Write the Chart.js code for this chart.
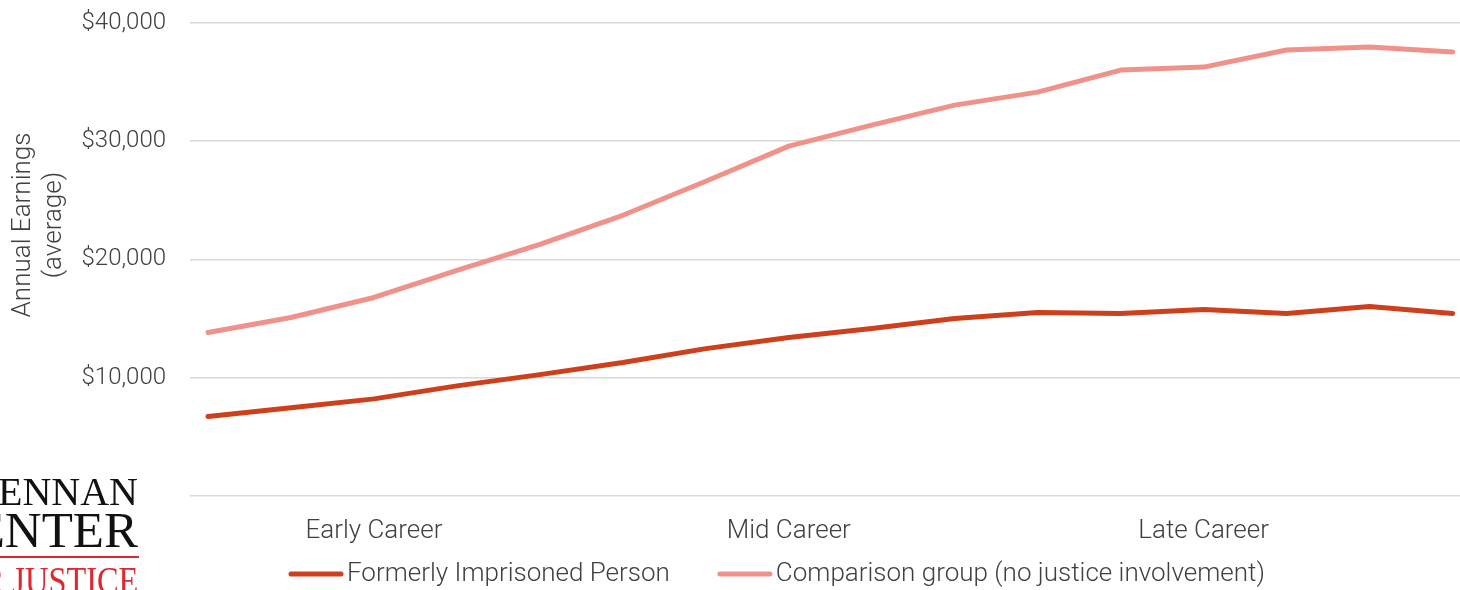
<!DOCTYPE html>
<html lang="en">
<head>
    <meta charset="UTF-8">
    <title>Annual Earnings over career</title>
    <script src="https://cdn.jsdelivr.net/npm/chart.js"></script>
    <style>
        html, body { margin: 0; padding: 0; background: #fff; overflow: hidden; }
        #wrap { position: relative; width: 1460px; height: 590px; overflow: hidden; }
        #earningsChart { position: absolute; left: 0; top: 0; }
        /* cropped logo in the lower left corner */
        .logo { position: absolute; right: 1322px; font-family: "Liberation Serif", "DejaVu Serif", serif; white-space: nowrap; line-height: 1; }
        #logo1 { top: 472px; font-size: 40px; color: #111; }
        #logo2 { top: 505px; font-size: 51px; color: #111; }
        #logoRule { position: absolute; left: 0; top: 556px; width: 139px; height: 2px; background: #e2262d; }
        #logo3 { top: 561px; font-size: 40px; color: #e2262d; transform: scaleX(0.81); transform-origin: right; }
    </style>
</head>
<body>
<div id="wrap">
    <canvas id="earningsChart" width="1460" height="660"></canvas>
    <div class="logo" id="logo1">BRENNAN</div>
    <div class="logo" id="logo2">CENTER</div>
    <div id="logoRule"></div>
    <div class="logo" id="logo3">FOR JUSTICE</div>
</div>

<script>
    // 16 points across a career, three stage labels on the axis
    const stageLabels = ['Early Career', 'Mid Career', 'Late Career'];
    const stagePositions = [2, 7, 12];
    const yTicks = [0, 10000, 20000, 30000, 40000];

    const formerlyImprisoned = [6700, 7450, 8200, 9300, 10250, 11270, 12450, 13400, 14150, 15000, 15500, 15420, 15760, 15420, 16020, 15420];
    const comparisonGroup = [13820, 15080, 16780, 19070, 21270, 23730, 26610, 29580, 31360, 33050, 34150, 36020, 36270, 37710, 37970, 37540];

    const seriesNames = ['Formerly Imprisoned Person', 'Comparison group (no justice involvement)'];
    const seriesColors = ['#cd401b', '#f0928a'];

    const textColor = '#404040';
    const labelFont = { family: 'Roboto', weight: '300', size: 26 };
    const tickFont = { family: 'Roboto', weight: '300', size: 24 };

    function toPoints(values) {
        return values.map((v, i) => ({ x: i, y: v }));
    }

    // small line swatch used as the legend marker
    function swatch(color) {
        const c = document.createElement('canvas');
        c.width = 56;
        c.height = 6;
        const g = c.getContext('2d');
        g.strokeStyle = color;
        g.lineWidth = 5;
        g.lineCap = 'round';
        g.beginPath();
        g.moveTo(3, 3);
        g.lineTo(53, 3);
        g.stroke();
        return c;
    }
    const swatches = seriesColors.map(swatch);

    // y-axis title, drawn by hand so it sits where the original has it
    const axisTitle = {
        id: 'axisTitle',
        afterDraw(chart) {
            const ctx = chart.ctx;
            ctx.save();
            ctx.fillStyle = textColor;
            ctx.font = '300 26px Roboto';
            ctx.textAlign = 'center';
            ctx.textBaseline = 'middle';
            ctx.translate(0, 225);
            ctx.rotate(-Math.PI / 2);
            ctx.fillText('Annual Earnings', 0, 23);
            ctx.fillText('(average)', 0, 54);
            ctx.restore();
        }
    };

    // move legend so it sits where the original does
    const legendShift = {
        id: 'legendShift',
        afterLayout(chart) {
            const lg = chart.legend;
            if (!lg || !lg.lineWidths) return;
            const pad = lg.options.labels.padding;
            const start = (lg.left + pad + lg.right - lg.lineWidths[0]) / 2;
            const dx = 298 - start;
            const dy = 574 - (lg.top + pad + labelFont.size / 2);
            lg.left += dx;
            lg.right += dx;
            lg.top += dy;
            lg.bottom += dy;
        }
    };

    const ctx = document.getElementById('earningsChart').getContext('2d');
    new Chart(ctx, {
        type: 'line',
        data: {
            datasets: [{
                label: seriesNames[0],
                data: toPoints(formerlyImprisoned),
                borderColor: seriesColors[0],
                backgroundColor: seriesColors[0],
                borderWidth: 5,
                pointRadius: 0,
                borderCapStyle: 'round',
                borderJoinStyle: 'round',
                tension: 0
            }, {
                label: seriesNames[1],
                data: toPoints(comparisonGroup),
                borderColor: seriesColors[1],
                backgroundColor: seriesColors[1],
                borderWidth: 5,
                pointRadius: 0,
                borderCapStyle: 'round',
                borderJoinStyle: 'round',
                tension: 0
            }]
        },
        options: {
            responsive: false,
            animation: false,
            layout: { padding: { top: 23, right: 0, left: 0, bottom: 0 } },
            plugins: {
                tooltip: { enabled: false },
                legend: {
                    position: 'bottom',
                    labels: {
                        color: textColor,
                        font: labelFont,
                        usePointStyle: true,
                        pointStyleWidth: 36,
                        padding: 57,
                        generateLabels(chart) {
                            return Chart.defaults.plugins.legend.labels.generateLabels(chart).map((item, i) => {
                                item.pointStyle = swatches[i];
                                item.lineWidth = 0;
                                return item;
                            });
                        }
                    }
                }
            },
            scales: {
                x: {
                    type: 'linear',
                    min: -0.217,
                    max: 15.09,
                    grid: { display: false, drawTicks: false },
                    border: { display: false },
                    afterBuildTicks(scale) {
                        scale.ticks = stagePositions.map(v => ({ value: v }));
                    },
                    ticks: {
                        color: textColor,
                        font: labelFont,
                        padding: 20,
                        maxRotation: 0,
                        autoSkip: false,
                        callback(value) {
                            const i = stagePositions.indexOf(value);
                            return i >= 0 ? stageLabels[i] : '';
                        }
                    }
                },
                y: {
                    min: 0,
                    max: 40000,
                    afterBuildTicks(scale) {
                        scale.ticks = yTicks.map(v => ({ value: v }));
                    },
                    afterFit(scale) {
                        scale.width = 190;
                        scale.paddingTop = 0;
                        scale.paddingBottom = 0;
                    },
                    grid: { color: '#d9d9d9', lineWidth: 1.5, drawTicks: false },
                    border: { display: false },
                    ticks: {
                        color: textColor,
                        font: tickFont,
                        padding: 24,
                        callback(value) {
                            if (value === 0) return '';
                            return '$' + value.toLocaleString('en-US');
                        }
                    }
                }
            }
        },
        plugins: [axisTitle, legendShift]
    });
</script>
</body>
</html>
